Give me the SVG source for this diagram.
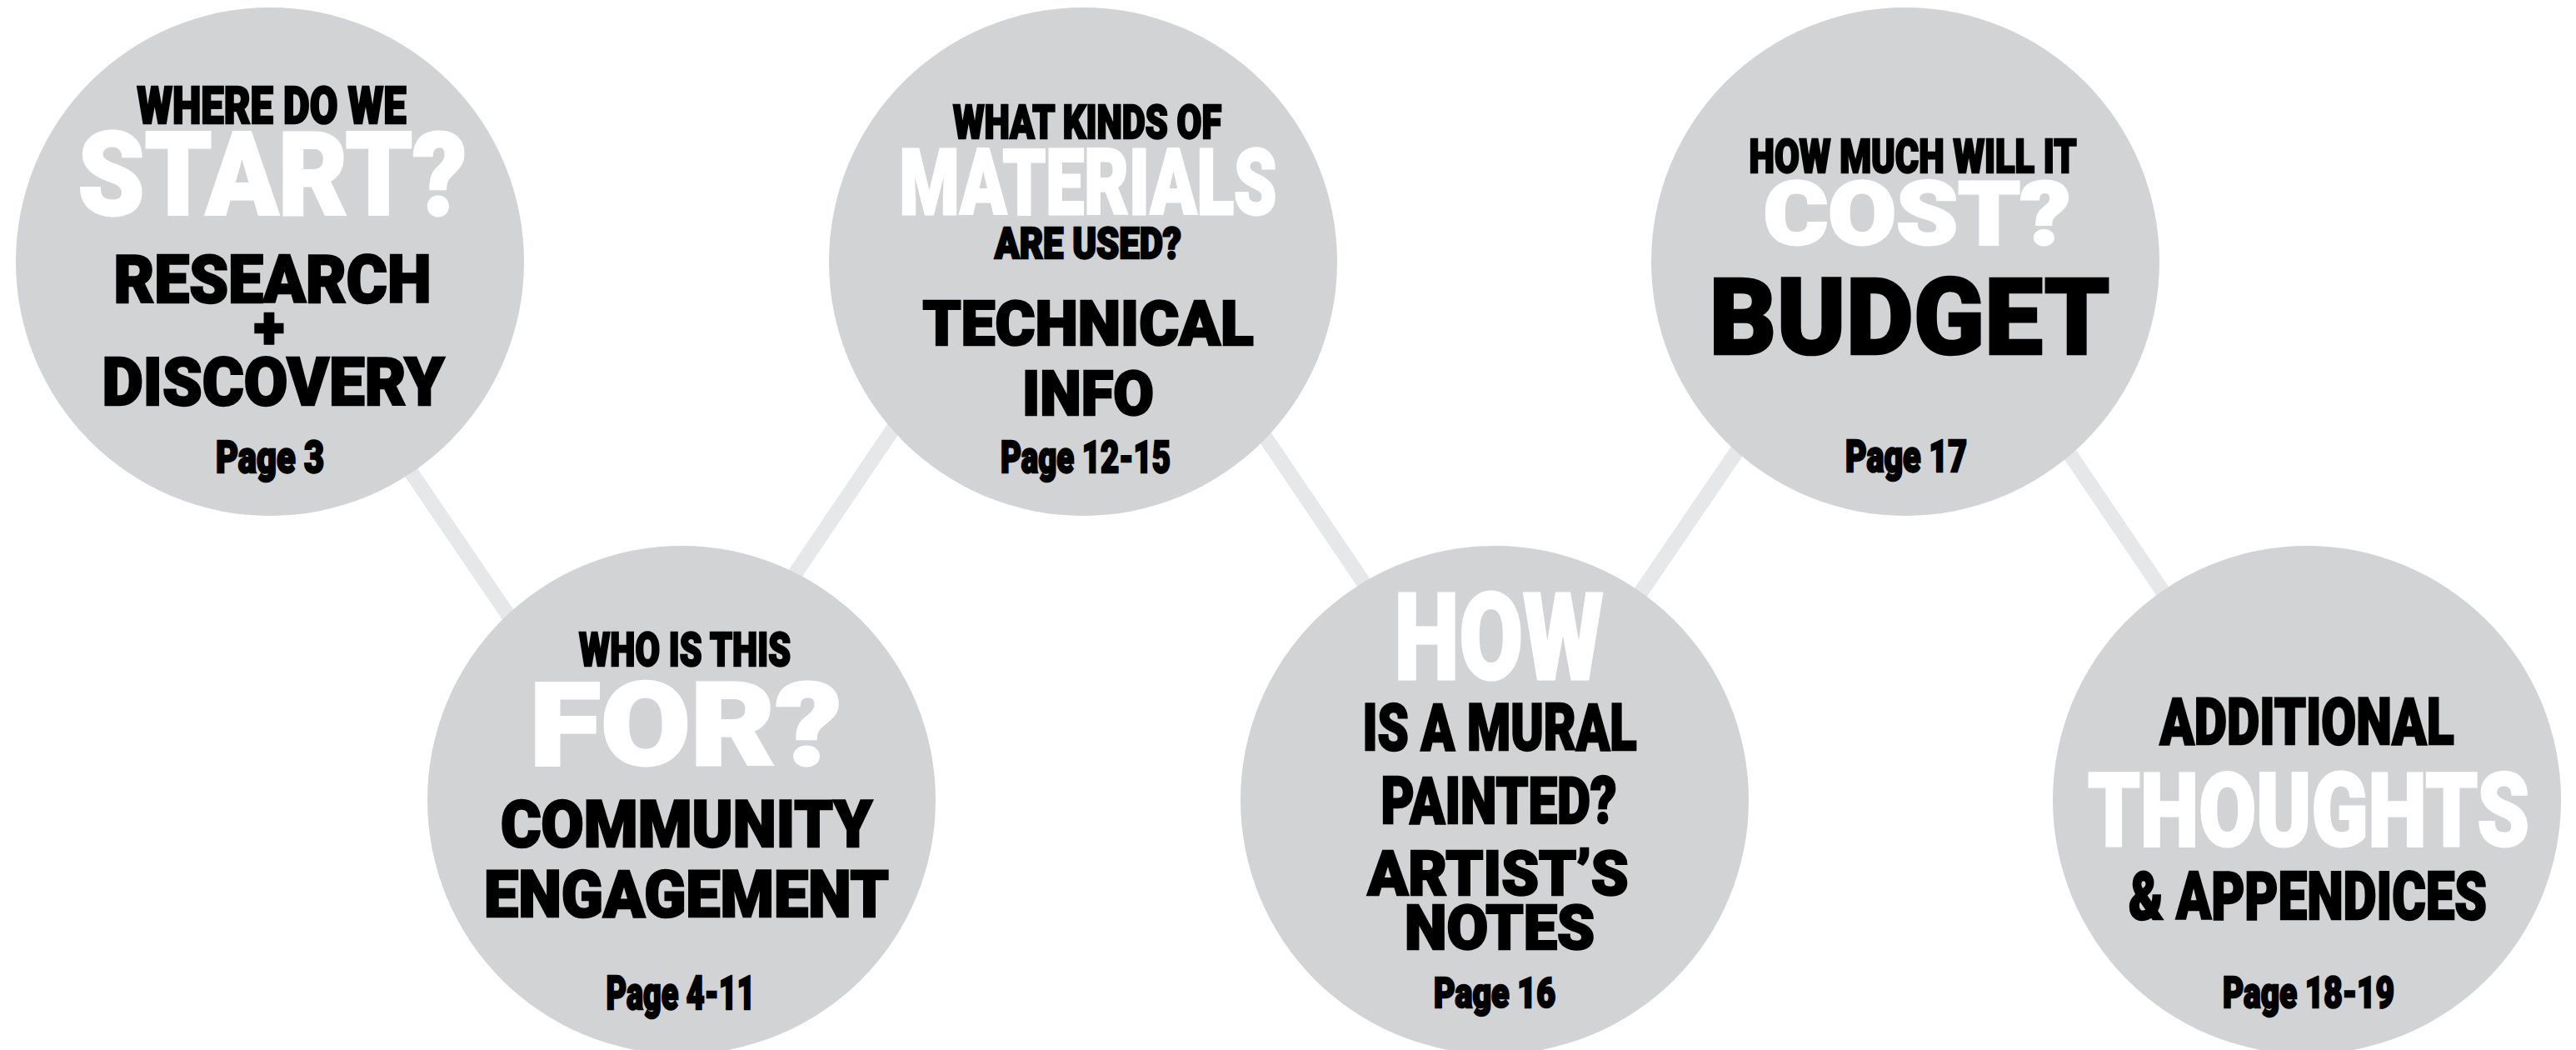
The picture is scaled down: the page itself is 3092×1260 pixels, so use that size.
<svg xmlns="http://www.w3.org/2000/svg" width="3092" height="1260" viewBox="0 0 3092 1260">
<style>
.bg{fill:#ffffff}
.node{fill:#d1d3d4}
.conn{stroke:#e6e7e8;stroke-width:18;fill:none}
text{font-family:Roboto,"Liberation Sans","DejaVu Sans",sans-serif;font-weight:900;text-anchor:middle;stroke-linejoin:miter}
.k{fill:#000000;stroke:#000000;stroke-width:2.5}
.w{fill:#ffffff;stroke:#ffffff;stroke-width:3}
</style>
<rect class="bg" x="0" y="0" width="3092" height="1260"/>
<g id="connectors">
<line class="conn" x1="448" y1="500" x2="625" y2="760"/>
<line class="conn" x1="1082" y1="500" x2="906" y2="760"/>
<line class="conn" x1="1502" y1="500" x2="1678" y2="760"/>
<line class="conn" x1="2113" y1="500" x2="1936" y2="760"/>
<line class="conn" x1="2454" y1="500" x2="2630" y2="760"/>
</g>
<g id="node-start">
<circle class="node" cx="324" cy="314" r="305"/>
<text class="k" x="326" y="148" font-size="61" textLength="323" lengthAdjust="spacingAndGlyphs">WHERE DO WE</text>
<text class="w" x="327" y="258" font-size="140" textLength="467" lengthAdjust="spacingAndGlyphs">START?</text>
<text class="k" x="327" y="363" font-size="80" textLength="381" lengthAdjust="spacingAndGlyphs">RESEARCH</text>
<text class="k" x="323" y="418" font-size="70" textLength="36" lengthAdjust="spacingAndGlyphs">+</text>
<text class="k" x="328" y="486" font-size="80" textLength="411" lengthAdjust="spacingAndGlyphs">DISCOVERY</text>
<text class="k" x="324" y="567" font-size="54" textLength="130" lengthAdjust="spacingAndGlyphs">Page 3</text>
</g>
<g id="node-for">
<circle class="node" cx="818" cy="960" r="305"/>
<text class="k" x="822" y="799" font-size="56" textLength="254" lengthAdjust="spacingAndGlyphs">WHO IS THIS</text>
<text class="w" x="823" y="918" font-size="140" textLength="375" lengthAdjust="spacingAndGlyphs">FOR?</text>
<text class="k" x="824" y="1016" font-size="78" textLength="446" lengthAdjust="spacingAndGlyphs">COMMUNITY</text>
<text class="k" x="824" y="1100" font-size="78" textLength="486" lengthAdjust="spacingAndGlyphs">ENGAGEMENT</text>
<text class="k" x="817" y="1211" font-size="56" textLength="179" lengthAdjust="spacingAndGlyphs">Page 4-11</text>
</g>
<g id="node-materials">
<circle class="node" cx="1300" cy="314" r="305"/>
<text class="k" x="1305" y="166" font-size="56" textLength="322" lengthAdjust="spacingAndGlyphs">WHAT KINDS OF</text>
<text class="w" x="1306" y="257" font-size="110" textLength="453" lengthAdjust="spacingAndGlyphs">MATERIALS</text>
<text class="k" x="1306" y="310" font-size="52" textLength="224" lengthAdjust="spacingAndGlyphs">ARE USED?</text>
<text class="k" x="1306" y="414" font-size="75" textLength="397" lengthAdjust="spacingAndGlyphs">TECHNICAL</text>
<text class="k" x="1306" y="498" font-size="75" textLength="158" lengthAdjust="spacingAndGlyphs">INFO</text>
<text class="k" x="1303" y="567" font-size="53" textLength="204" lengthAdjust="spacingAndGlyphs">Page 12-15</text>
</g>
<g id="node-how">
<circle class="node" cx="1794" cy="960" r="305"/>
<text class="w" x="1799" y="815" font-size="145" textLength="251" lengthAdjust="spacingAndGlyphs">HOW</text>
<text class="k" x="1800" y="900" font-size="78" textLength="329" lengthAdjust="spacingAndGlyphs">IS A MURAL</text>
<text class="k" x="1799" y="988" font-size="78" textLength="283" lengthAdjust="spacingAndGlyphs">PAINTED?</text>
<text class="k" x="1798" y="1074" font-size="75" textLength="313" lengthAdjust="spacingAndGlyphs">ARTIST’S</text>
<text class="k" x="1800" y="1139" font-size="75" textLength="228" lengthAdjust="spacingAndGlyphs">NOTES</text>
<text class="k" x="1794" y="1209" font-size="50" textLength="146" lengthAdjust="spacingAndGlyphs">Page 16</text>
</g>
<g id="node-cost">
<circle class="node" cx="2287" cy="314" r="305"/>
<text class="k" x="2296" y="207" font-size="55" textLength="393" lengthAdjust="spacingAndGlyphs">HOW MUCH WILL IT</text>
<text class="w" x="2301" y="293" font-size="105" textLength="369" lengthAdjust="spacingAndGlyphs">COST?</text>
<text class="k" x="2292" y="425" font-size="128" textLength="481" lengthAdjust="spacingAndGlyphs">BUDGET</text>
<text class="k" x="2288" y="566" font-size="53" textLength="146" lengthAdjust="spacingAndGlyphs">Page 17</text>
</g>
<g id="node-thoughts">
<circle class="node" cx="2769" cy="960" r="305"/>
<text class="k" x="2769" y="893" font-size="77" textLength="353" lengthAdjust="spacingAndGlyphs">ADDITIONAL</text>
<text class="w" x="2771" y="1015" font-size="123" textLength="530" lengthAdjust="spacingAndGlyphs">THOUGHTS</text>
<text class="k" x="2770" y="1103" font-size="80" textLength="430" lengthAdjust="spacingAndGlyphs">&amp; APPENDICES</text>
<text class="k" x="2771" y="1209" font-size="52" textLength="206" lengthAdjust="spacingAndGlyphs">Page 18-19</text>
</g>
</svg>
